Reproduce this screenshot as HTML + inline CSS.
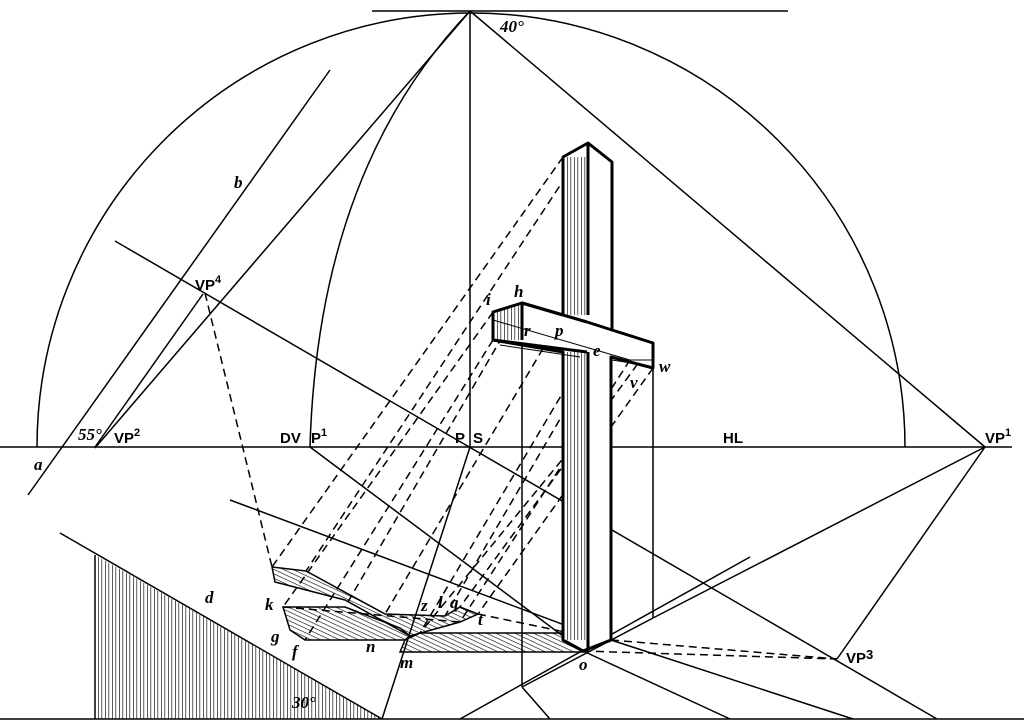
<!DOCTYPE html>
<html><head><meta charset="utf-8"><style>
html,body{margin:0;padding:0;background:#fff;}
svg{display:block;}
text{font-family:"Liberation Sans",sans-serif;font-weight:bold;font-size:15px;fill:#000;}
.it{font-family:"Liberation Serif",serif;font-style:italic;font-weight:bold;font-size:17px;}
</style></head><body>
<svg width="1024" height="725" viewBox="0 0 1024 725" xmlns="http://www.w3.org/2000/svg">
<defs>
<pattern id="hd" width="4" height="4" patternUnits="userSpaceOnUse" patternTransform="rotate(25)">
<line x1="0" y1="0" x2="4" y2="0" stroke="#000" stroke-width="1.2"/></pattern>
<pattern id="hv" width="3.5" height="4" patternUnits="userSpaceOnUse">
<line x1="0" y1="0" x2="0" y2="4" stroke="#000" stroke-width="1.3"/></pattern>
</defs>
<g stroke="#000" stroke-width="1.5" fill="none">
<line x1="372" y1="11" x2="788" y2="11"/>
<line x1="0" y1="447" x2="1012" y2="447"/>
<line x1="0" y1="719" x2="1024" y2="719"/>
<path d="M37,447 A434,434 0 0 1 905,447"/>
<line x1="470" y1="11" x2="470" y2="447"/>
<line x1="470" y1="11" x2="985" y2="447"/>
<line x1="470" y1="11" x2="95" y2="448"/>
<line x1="203" y1="294" x2="95" y2="447"/>
<path d="M310,447 Q318,170 470,11"/>
<line x1="330" y1="70" x2="28" y2="495"/>
<line x1="115" y1="241" x2="937" y2="719"/>
<line x1="310" y1="447" x2="583" y2="651"/>
<line x1="230" y1="500" x2="610" y2="642"/>
<line x1="470" y1="447" x2="382" y2="719"/>
<line x1="60" y1="533" x2="382" y2="719"/>
<line x1="460" y1="719" x2="750" y2="557"/>
<line x1="985" y1="447" x2="653" y2="618"/>
<line x1="985" y1="447" x2="837" y2="659"/>
<line x1="653" y1="618" x2="522" y2="687"/>
<line x1="522" y1="687" x2="550" y2="719"/>
<line x1="522" y1="340" x2="522" y2="687"/>
<line x1="653" y1="368" x2="653" y2="618"/>
<line x1="583" y1="651" x2="730" y2="719"/>
<line x1="611" y1="640" x2="853" y2="719"/>
</g>
<polygon points="95,555 382,719 95,719" fill="url(#hv)"/>
<line x1="95" y1="555" x2="95" y2="719" stroke="#000" stroke-width="1.5"/>
<g fill="url(#hd)" stroke="#000" stroke-width="1.5">
<polygon points="272,567 306,571 385,614 445,616 460,607 478,614 460,622 410,636 345,600 275,582"/>
<polygon points="283,607 345,607 400,628 410,636 405,640 305,640 290,630"/>
<polygon points="405,640 420,633 565,633 583,652 400,652"/>
</g>
<g stroke="#000" stroke-width="1.5" fill="none" stroke-dasharray="8,5">
<line x1="205" y1="293" x2="272" y2="567"/>
<line x1="563" y1="157" x2="272" y2="567"/>
<line x1="588" y1="143" x2="306" y2="571"/>
<line x1="493" y1="312" x2="283" y2="607"/>
<line x1="522" y1="303" x2="345" y2="607"/>
<line x1="493" y1="340" x2="305" y2="640"/>
<line x1="563" y1="315" x2="385" y2="614"/>
<line x1="587" y1="352" x2="420" y2="633"/>
<line x1="612" y1="330" x2="445" y2="616"/>
<line x1="653" y1="343" x2="460" y2="607"/>
<line x1="653" y1="368" x2="478" y2="614"/>
<line x1="630" y1="360" x2="460" y2="622"/>
<line x1="611" y1="400" x2="420" y2="633"/>
<line x1="478" y1="614" x2="565" y2="632"/>
<line x1="583" y1="651" x2="837" y2="659"/>
<line x1="611" y1="640" x2="837" y2="659"/>
<line x1="283" y1="607" x2="460" y2="622"/>
</g>
<g stroke="#000" stroke-width="3" fill="#fff" stroke-linejoin="round">
<polygon points="563,157 588,143 612,162 612,330 653,343 653,368 611,357 611,640 583,651 563,640 563,352 493,340 493,312 522,303 563,315"/>
</g>
<rect x="563" y="157" width="25" height="158" fill="url(#hv)"/>
<rect x="563" y="352" width="25" height="288" fill="url(#hv)"/>
<polygon points="493,312 522,303 522,340 493,340" fill="url(#hv)"/>
<g stroke="#000" stroke-width="3" fill="none">
<line x1="588" y1="143" x2="588" y2="315"/>
<line x1="522" y1="303" x2="587" y2="322"/>
<line x1="587" y1="322" x2="612" y2="330"/>
<line x1="588" y1="352" x2="588" y2="648"/>
<line x1="493" y1="340" x2="587" y2="352"/>
<line x1="611" y1="357" x2="611" y2="640"/>
<line x1="522" y1="303" x2="522" y2="340"/>
</g>
<g stroke="#000" stroke-width="1" fill="none">
<line x1="493" y1="320" x2="630" y2="360"/>
<line x1="630" y1="360" x2="653" y2="360"/>
<line x1="500" y1="345" x2="580" y2="357"/>
<line x1="612" y1="360" x2="650" y2="366"/>
</g>
<text class="it" x="234" y="188">b</text>
<text x="195" y="290">VP<tspan font-size="11" dy="-7">4</tspan></text>
<text class="it" x="78" y="440" font-size="14" font-weight="normal">55°</text>
<text x="114" y="443">VP<tspan font-size="11" dy="-7">2</tspan></text>
<text x="280" y="443">DV</text>
<text x="311" y="443">P<tspan font-size="11" dy="-7">1</tspan></text>
<text x="455" y="443">P</text>
<text x="473" y="443">S</text>
<text x="723" y="443">HL</text>
<text x="985" y="443">VP<tspan font-size="11" dy="-7">1</tspan></text>
<text x="846" y="663">VP<tspan font-size="13" dy="-4">3</tspan></text>
<text class="it" x="500" y="32" font-size="14" font-weight="normal">40°</text>
<text class="it" x="34" y="470">a</text>
<text class="it" x="205" y="603">d</text>
<text class="it" x="292" y="708" font-size="14" font-weight="normal">30°</text>
<text class="it" x="486" y="305">i</text>
<text class="it" x="514" y="297">h</text>
<text class="it" x="524" y="336">r</text>
<text class="it" x="555" y="336">p</text>
<text class="it" x="593" y="356">e</text>
<text class="it" x="659" y="372">w</text>
<text class="it" x="630" y="388">v</text>
<text class="it" x="265" y="610">k</text>
<text class="it" x="271" y="642">g</text>
<text class="it" x="292" y="657">f</text>
<text class="it" x="366" y="652">n</text>
<text class="it" x="400" y="668">m</text>
<text class="it" x="579" y="670">o</text>
<text class="it" x="421" y="611">z</text>
<text class="it" x="438" y="608">l</text>
<text class="it" x="450" y="608">q</text>
<text class="it" x="478" y="625">t</text>
</svg>
</body></html>
